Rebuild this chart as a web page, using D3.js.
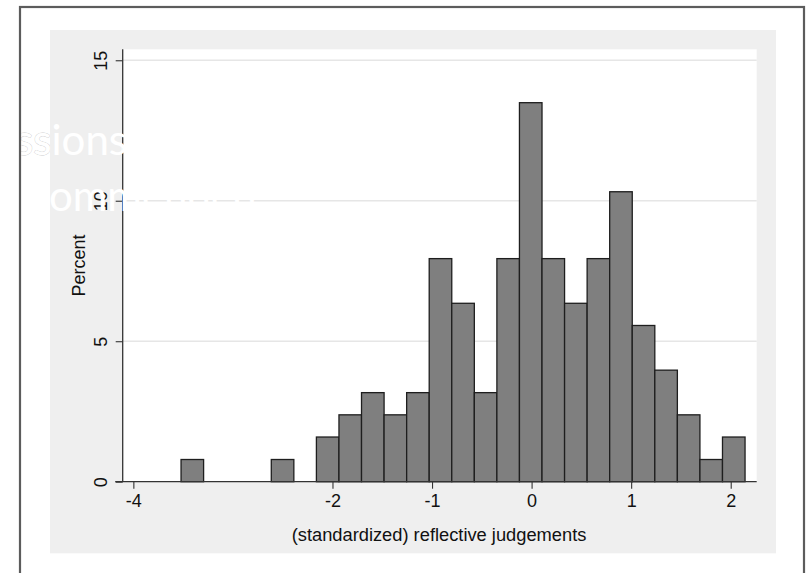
<!DOCTYPE html>
<html>
<head>
<meta charset="utf-8">
<script src="https://cdn.jsdelivr.net/npm/d3@7"></script>
<style>
  html, body { margin: 0; padding: 0; background: #ffffff; overflow: hidden; }
  svg { display: block; }
</style>
</head>
<body>
<div id="chart"></div>
<script>
// ---- data ----
const binStart = -3.521;   // left edge of first bin
const binWidth = 0.2266;   // width of each bin
const percentValues = [0.79, 0, 0, 0, 0.79, 0, 1.59, 2.38, 3.17, 2.38, 3.17, 7.94, 6.35, 3.17,
                       7.94, 13.49, 7.94, 6.35, 7.94, 10.32, 5.56, 3.97, 2.38, 0.79, 1.59];
const xTicks = [-4, -2, -1, 0, 1, 2];
const yTicks = [0, 5, 10, 15];
const yGrid = [5, 10, 15];
const xTitle = "(standardized) reflective judgements";
const yTitle = "Percent";
const watermark = ["ssions", "ommended"];

// ---- layout ----
const W = 806, H = 573;
const svg = d3.select("#chart").append("svg").attr("width", W).attr("height", H);
const font = "'Liberation Sans', Arial, Helvetica, sans-serif";

svg.append("defs").append("clipPath").attr("id", "leftStrip")
  .append("rect").attr("x", 21).attr("y", 0).attr("width", 29).attr("height", H);

// outer frame background
svg.append("rect").attr("x", 20).attr("y", 7).attr("width", 784).attr("height", 600)
  .attr("fill", "#ffffff");

// graph region (gray)
svg.append("rect").attr("x", 50).attr("y", 30).attr("width", 726).attr("height", 523.3)
  .attr("fill", "#efefef");

const plot = { left: 122.7, right: 756.7, top: 49.3, bottom: 481.7 };
svg.append("rect").attr("x", plot.left).attr("y", plot.top)
  .attr("width", plot.right - plot.left).attr("height", plot.bottom - plot.top)
  .attr("fill", "#ffffff");

const x = d3.scaleLinear().domain([-4.107, 2.261]).range([plot.left, plot.right]);
const y = d3.scaleLinear().domain([0, 15.39]).range([plot.bottom, plot.top]);

// gridlines
svg.append("g").selectAll("line").data(yGrid).join("line")
  .attr("x1", plot.left).attr("x2", plot.right)
  .attr("y1", d => y(d)).attr("y2", d => y(d))
  .attr("stroke", "#e6e6e6").attr("stroke-width", 1.6);

// bars
const bins = percentValues.map((v, i) => ({ x0: binStart + i * binWidth, x1: binStart + (i + 1) * binWidth, v }));
svg.append("g").selectAll("rect").data(bins.filter(b => b.v > 0)).join("rect")
  .attr("x", d => x(d.x0)).attr("width", d => x(d.x1) - x(d.x0))
  .attr("y", d => y(d.v)).attr("height", d => y(0) - y(d.v))
  .attr("fill", "#7f7f7f").attr("stroke", "#1e1e1e").attr("stroke-width", 1.3);

// x axis
const xAxis = d3.axisBottom(x).tickValues(xTicks).tickSize(7).tickPadding(6)
  .tickFormat(d => String(d));
const gx = svg.append("g").attr("transform", `translate(0,${plot.bottom})`).call(xAxis);
gx.select(".domain").remove();
gx.selectAll(".tick line").attr("stroke", "#333").attr("stroke-width", 1.1);
gx.selectAll(".tick text").attr("font-family", font).attr("font-size", 18)
  .attr("fill", "#111").attr("dy", "0.71em");
svg.append("line").attr("x1", plot.left - 7.5).attr("x2", plot.right)
  .attr("y1", plot.bottom).attr("y2", plot.bottom)
  .attr("stroke", "#333").attr("stroke-width", 1.3);

// y axis
const yAxis = d3.axisLeft(y).tickValues(yTicks).tickSize(7).tickFormat(d => String(d));
const gy = svg.append("g").attr("transform", `translate(${plot.left},0)`).call(yAxis);
gy.select(".domain").remove();
gy.selectAll(".tick line").attr("stroke", "#333").attr("stroke-width", 1.1);
gy.selectAll(".tick text").attr("font-family", font).attr("font-size", 18).attr("fill", "#111")
  .attr("x", 0).attr("dy", 0)
  .attr("text-anchor", "middle")
  .attr("transform", "translate(-15.5,0) rotate(-90)");
svg.append("line").attr("x1", plot.left).attr("x2", plot.left)
  .attr("y1", plot.top).attr("y2", plot.bottom)
  .attr("stroke", "#333").attr("stroke-width", 1.3);

// titles
svg.append("text").attr("x", (x(-4) + x(2)) / 2 + 7).attr("y", 541)
  .attr("text-anchor", "middle").attr("font-family", font).attr("font-size", 18.3)
  .attr("fill", "#111").text(xTitle);
svg.append("text").attr("transform", `translate(85,${(plot.top + plot.bottom) / 2}) rotate(-90)`)
  .attr("text-anchor", "middle").attr("font-family", font).attr("font-size", 18)
  .attr("fill", "#111").text(yTitle);

// white overlay text (faint outline only where it lies over the white margin)
const wmFont = "Lato, 'Open Sans', sans-serif";
svg.append("text").attr("clip-path", "url(#leftStrip)")
  .attr("font-family", wmFont).attr("font-size", 42)
  .attr("fill", "#ffffff").attr("stroke", "#cdcdcd").attr("stroke-width", 1)
  .attr("paint-order", "stroke")
  .attr("x", 127).attr("y", 155).attr("text-anchor", "end").text(watermark[0]);
const wm = svg.append("g").attr("font-family", wmFont)
  .attr("font-size", 42).attr("fill", "#ffffff");
wm.append("text").attr("x", 127).attr("y", 155).attr("text-anchor", "end").text(watermark[0]);
wm.append("text").attr("x", 49).attr("y", 211).attr("text-anchor", "start").text(watermark[1]);

// outer frame border on top
svg.append("rect").attr("x", 20).attr("y", 7).attr("width", 784).attr("height", 600)
  .attr("fill", "none").attr("stroke", "#5c5c5c").attr("stroke-width", 2.2);
</script>
</body>
</html>
